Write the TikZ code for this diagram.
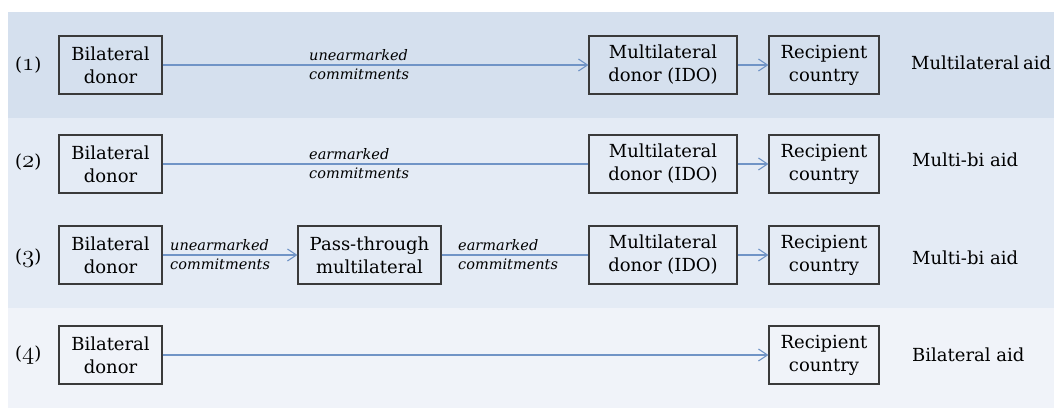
\documentclass[tikz,border=0pt]{standalone}
\usepackage{fontspec}
\setmainfont{DejaVu Serif}
\usetikzlibrary{arrows.meta}
\definecolor{bandA}{HTML}{D5E0EE}
\definecolor{bandB}{HTML}{E4EBF5}
\definecolor{bandC}{HTML}{F0F3F9}
\definecolor{flow}{RGB}{112,148,198}
\definecolor{edge}{HTML}{3A3A3A}
\newcommand{\osn}[1]{{\fontsize{23}{23}\selectfont$\mathnormal{#1}$}}
\begin{document}
\begin{tikzpicture}[x=1pt,y=-1pt,
  box/.style={draw=edge,line width=1.2pt,minimum height=58pt,align=center,inner sep=0pt,
    font=\fontsize{18}{23}\selectfont},
  lbl/.style={anchor=west,align=left,inner sep=0pt,font=\fontsize{14.5}{19}\selectfont\itshape},
  rowno/.style={anchor=west,inner sep=0pt,font=\fontsize{18}{23}\selectfont},
  kind/.style={anchor=west,inner sep=0pt,font=\fontsize{18}{23}\selectfont},
  conn/.style={draw=flow,line width=1.2pt},
  arr/.style={conn,-{Straight Barb[length=9pt,width=12pt,line width=1.1pt]}}]
\useasboundingbox (0,0) rectangle (1054,408);
\fill[white] (0,0) rectangle (1054,408);
\fill[bandA] (8,12) rectangle (1054,118);
\fill[bandB] (8,118) rectangle (1054,308);
\fill[bandC] (8,308) rectangle (1054,408);
% row 1
\node[rowno] (n1) at (15,65) {(\osn{1})};
\node[box,minimum width=103pt] (b1) at (110.5,65) {Bilateral\\donor};
\node[box,minimum width=148pt] (m1) at (663,65) {Multilateral\\donor (IDO)};
\node[box,minimum width=110pt] (r1) at (824,65) {Recipient\\country};
\node[kind] (k1) at (911,63) {Multilateral\hspace{-2pt} aid};
\draw[arr] (b1) -- (m1);
\draw[arr] (m1) -- (r1);
\node[lbl] (l1) at (309,65) {unearmarked\\commitments};
% row 2
\node[rowno] (n2) at (15,162) {(\osn{2})};
\node[box,minimum width=103pt] (b2) at (110.5,164) {Bilateral\\donor};
\node[box,minimum width=148pt] (m2) at (663,164) {Multilateral\\donor (IDO)};
\node[box,minimum width=110pt] (r2) at (824,164) {Recipient\\country};
\node[kind] (k2) at (912,160) {Multi-bi aid};
\draw[conn] (b2) -- (m2);
\draw[arr] (m2) -- (r2);
\node[lbl] (l2) at (309,164) {earmarked\\commitments};
% row 3
\node[rowno] (n3) at (15,258) {(\osn{3})};
\node[box,minimum width=103pt] (b3) at (110.5,255) {Bilateral\\donor};
\node[box,minimum width=143pt] (p3) at (369.5,255) {Pass-through\\multilateral};
\node[box,minimum width=148pt] (m3) at (663,255) {Multilateral\\donor (IDO)};
\node[box,minimum width=110pt] (r3) at (824,255) {Recipient\\country};
\node[kind] (k3) at (912,258) {Multi-bi aid};
\draw[arr] (b3) -- (p3);
\draw[conn] (p3) -- (m3);
\draw[arr] (m3) -- (r3);
\node[lbl] (l3a) at (170,255) {unearmarked\\commitments};
\node[lbl] (l3b) at (458,255) {earmarked\\commitments};
% row 4
\node[rowno] (n4) at (15,355) {(\osn{4})};
\node[box,minimum width=103pt] (b4) at (110.5,355) {Bilateral\\donor};
\node[box,minimum width=110pt] (r4) at (824,355) {Recipient\\country};
\node[kind] (k4) at (912,355) {Bilateral aid};
\draw[arr] (b4) -- (r4);
\end{tikzpicture}
\end{document}
